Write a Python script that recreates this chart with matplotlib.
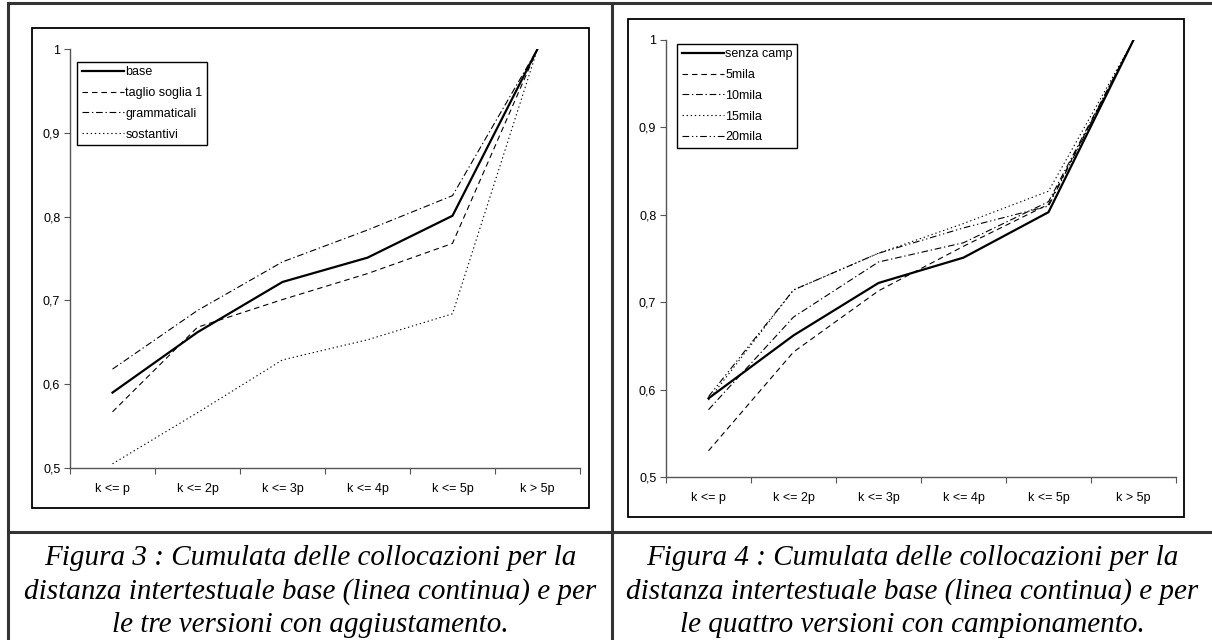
import matplotlib
matplotlib.use("Agg")
import matplotlib.pyplot as plt
from matplotlib.lines import Line2D
from matplotlib.patches import Rectangle
from matplotlib.ticker import FixedLocator, FuncFormatter

categories = ["k <= p", "k <= 2p", "k <= 3p", "k <= 4p", "k <= 5p", "k > 5p"]

# Figura 3
base = [0.590, 0.662, 0.722, 0.751, 0.801, 1.0]
taglio_soglia = [0.567, 0.668, 0.701, 0.732, 0.768, 1.0]
grammaticali = [0.618, 0.688, 0.746, 0.784, 0.825, 1.0]
sostantivi = [0.505, 0.566, 0.629, 0.653, 0.684, 1.0]

# Figura 4
senza_camp = [0.590, 0.662, 0.722, 0.751, 0.803, 1.0]
mila5 = [0.530, 0.643, 0.713, 0.764, 0.812, 1.0]
mila10 = [0.577, 0.683, 0.746, 0.768, 0.815, 1.0]
mila15 = [0.588, 0.714, 0.756, 0.790, 0.827, 1.0]
mila20 = [0.592, 0.714, 0.756, 0.785, 0.810, 1.0]

caption3 = ["Figura 3 : Cumulata delle collocazioni per la",
            "distanza intertestuale base (linea continua) e per",
            "le tre versioni con aggiustamento."]
caption4 = ["Figura 4 : Cumulata delle collocazioni per la",
            "distanza intertestuale base (linea continua) e per",
            "le quattro versioni con campionamento."]

W, H = 1212, 640
plt.rcParams['font.family'] = ['Liberation Sans', 'DejaVu Sans']

SOLID = dict(color="black", lw=1.6, linestyle="-")
DASH = dict(color="black", lw=0.8, linestyle=(0, (5, 3.5)))
DASHDOT = dict(color="black", lw=0.8, linestyle=(0, (6, 2.5, 1.2, 2.5)))
DOT = dict(color="black", lw=0.8, linestyle=(0, (1.2, 2.5)))
DASHDOTDOT = dict(color="black", lw=0.8, linestyle=(0, (6, 2.5, 1.2, 2.5, 1.2, 2.5)))


def px_rect(x0, y0, x1, y1):
    # pixel box (top-left origin) -> figure fraction
    return [x0 / W, (H - y1) / H, (x1 - x0) / W, (y1 - y0) / H]


def make_chart(fig, axbox, frame, series, legend_anchor):
    fx = px_rect(*frame)
    fig.patches.append(Rectangle((fx[0], fx[1]), fx[2], fx[3], transform=fig.transFigure,
                                 fill=False, edgecolor="black", lw=1.3))
    ax = fig.add_axes(px_rect(*axbox))
    xs = [i + 0.5 for i in range(len(categories))]
    for label, vals, style in series:
        ax.plot(xs, vals, label=label, **style)
    ax.set_xlim(0, len(categories))
    ax.set_ylim(0.5, 1.0)
    ax.spines['top'].set_visible(False)
    ax.spines['right'].set_visible(False)
    for s in ['left', 'bottom']:
        ax.spines[s].set_color("#555555")
        ax.spines[s].set_linewidth(1.0)
    ax.xaxis.set_major_locator(FixedLocator(range(len(categories) + 1)))
    ax.xaxis.set_major_formatter(FuncFormatter(lambda v, p: ""))
    ax.xaxis.set_minor_locator(FixedLocator(xs))
    ax.set_xticklabels(categories, minor=True)
    ax.tick_params(axis='x', which='major', length=4, color="#555555", direction='out')
    ax.tick_params(axis='x', which='minor', length=0, pad=11, labelsize=9)
    ax.set_yticks([0.5, 0.6, 0.7, 0.8, 0.9, 1.0])
    ax.yaxis.set_major_formatter(FuncFormatter(
        lambda v, p: "1" if abs(v - 1) < 1e-9 else ("%.1f" % v).replace(".", ",")))
    ax.tick_params(axis='y', length=4, color="#555555", direction='out', labelsize=9, pad=3)
    leg = ax.legend(loc="upper left", bbox_to_anchor=legend_anchor, borderaxespad=0,
                    fancybox=False, framealpha=1, edgecolor="black", fontsize=9,
                    handlelength=3.4, handletextpad=0.1, labelspacing=0.7,
                    borderpad=0.35)
    leg.get_frame().set_linewidth(1.0)
    return ax


def main():
    fig = plt.figure(figsize=(W / 100, H / 100), dpi=100)

    series3 = [("base", base, SOLID),
               ("taglio soglia 1", taglio_soglia, DASH),
               ("grammaticali", grammaticali, DASHDOT),
               ("sostantivi", sostantivi, DOT)]
    make_chart(fig, (70, 49, 580, 468), (32, 28, 589, 508), series3, (0.014, 0.969))

    series4 = [("senza camp", senza_camp, SOLID),
               ("5mila", mila5, DASH),
               ("10mila", mila10, DASHDOT),
               ("15mila", mila15, DOT),
               ("20mila", mila20, DASHDOTDOT)]
    make_chart(fig, (666, 40, 1176, 477), (628, 19, 1184, 517), series4, (0.022, 0.991))

    # table lines
    grid_col = "#333333"
    for (x0, y0, x1, y1) in [(8, 3, W, 3), (8, 3, 8, H), (612, 3, 612, H), (8, 532, W, 532)]:
        fig.add_artist(Line2D([x0 / W, x1 / W], [1 - y0 / H, 1 - y1 / H],
                              transform=fig.transFigure, color=grid_col, lw=2.2))

    # captions
    for cx, lines in [(310, caption3), (912, caption4)]:
        for i, line in enumerate(lines):
            y = 558 + i * 33.5
            fig.text(cx / W, 1 - y / H, line, ha="center", va="center",
                     family="Liberation Serif", style="italic", fontsize=21)

    fig.savefig("out.png", dpi=100)


if __name__ == "__main__":
    main()
